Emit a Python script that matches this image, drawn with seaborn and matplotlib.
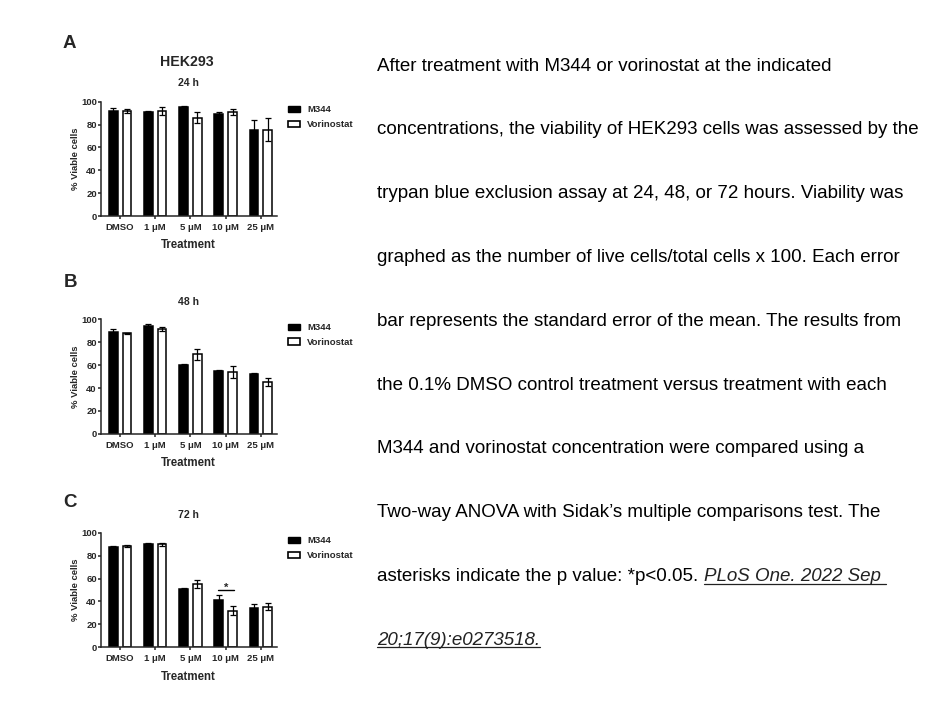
import numpy as np
import pandas as pd
import seaborn as sns
import matplotlib.pyplot as plt
from matplotlib.patches import Patch
from matplotlib.lines import Line2D

# treatments and drugs
treatments = ["DMSO", "1 μM", "5 μM", "10 μM", "25 μM"]
drugs = ["M344", "Vorinostat"]

# % viable cells (bar heights) and SEM (error bars)
m344_24h = [91.8, 90.6, 95.6, 88.9, 75.7]
vor_24h = [91.8, 91.8, 86.0, 90.9, 75.4]
m344_24h_sem = [2.4, 1.0, 0.6, 2.3, 7.9]
vor_24h_sem = [1.5, 3.8, 4.6, 2.6, 10.0]

m344_48h = [88.7, 94.5, 59.8, 54.6, 52.0]
vor_48h = [87.6, 91.6, 69.4, 54.0, 45.1]
m344_48h_sem = [2.9, 1.7, 1.5, 0.9, 0.9]
vor_48h_sem = [0.6, 1.7, 4.6, 5.2, 3.7]

m344_72h = [87.5, 89.9, 50.7, 41.4, 34.2]
vor_72h = [88.4, 89.9, 55.1, 31.9, 35.4]
m344_72h_sem = [0.9, 0.9, 0.9, 4.1, 3.5]
vor_72h_sem = [0.6, 1.1, 3.5, 4.0, 2.9]

# significance mark in the 72 h panel (10 uM, M344 vs vorinostat)
sig_group = "10 μM"
sig_level = 50.2
sig_text = "*"

panel_letters = ["A", "B", "C"]
panel_times = ["24 h", "48 h", "72 h"]
cell_line = "HEK293"

caption_lines = [
    "After treatment with M344 or vorinostat at the indicated",
    "concentrations, the viability of HEK293 cells was assessed by the",
    "trypan blue exclusion assay at 24, 48, or 72 hours. Viability was",
    "graphed as the number of live cells/total cells x 100. Each error",
    "bar represents the standard error of the mean. The results from",
    "the 0.1% DMSO control treatment versus treatment with each",
    "M344 and vorinostat concentration were compared using a",
    "Two-way ANOVA with Sidak\u2019s multiple comparisons test. The",
    "asterisks indicate the p value: *p<0.05.",
]
citation_1 = "PLoS One. 2022 Sep "
citation_2 = "20;17(9):e0273518."

sns.set_style("ticks")
plt.rcParams["font.family"] = ["Liberation Sans", "DejaVu Sans"]

W, H = 945, 709
fig = plt.figure(figsize=(W / 100, H / 100), dpi=100)


def fx(px):
    return px / W


def fy(py):
    return 1 - py / H


panels = [
    (m344_24h, vor_24h, m344_24h_sem, vor_24h_sem, 101.7),
    (m344_48h, vor_48h, m344_48h_sem, vor_48h_sem, 319.3),
    (m344_72h, vor_72h, m344_72h_sem, vor_72h_sem, 532.7),
]
ax_left, ax_w, ax_h = 100.7, 176, 114.5
palette = {"M344": "black", "Vorinostat": "white"}

for i, (m, v, ms, vs, top) in enumerate(panels):
    ax = fig.add_axes([fx(ax_left), fy(top + ax_h), ax_w / W, ax_h / H])
    df = pd.DataFrame({
        "Treatment": treatments * 2,
        "Viability": m + v,
        "Drug": ["M344"] * len(m) + ["Vorinostat"] * len(v),
    })
    sns.barplot(data=df, x="Treatment", y="Viability", hue="Drug",
                order=treatments, hue_order=drugs, palette=palette,
                edgecolor="black", linewidth=1.1, errorbar=None,
                width=0.78, gap=0.37, legend=False, ax=ax)

    centers = {}
    for cont, sems, drug in zip(ax.containers, [ms, vs], drugs):
        xs = [p.get_x() + p.get_width() / 2 for p in cont]
        ys = [p.get_height() for p in cont]
        centers[drug] = xs
        ax.errorbar(xs, ys, yerr=sems, fmt="none", ecolor="black",
                    elinewidth=0.9, capsize=2.5, capthick=0.9,
                    clip_on=False, zorder=3)

    ax.set_xlim(-0.55, 4.45)
    ax.set_ylim(0, 100)
    ax.set_yticks([0, 20, 40, 60, 80, 100])
    sns.despine(ax=ax)
    for s in ["left", "bottom"]:
        ax.spines[s].set_linewidth(1.1)
    ax.tick_params(axis="both", length=2, width=1.1, labelsize=6.8)
    ax.tick_params(axis="x", pad=3.0)
    ax.tick_params(axis="y", pad=0.8)
    for lbl in ax.get_xticklabels() + ax.get_yticklabels():
        lbl.set_fontweight("bold")

    ax.set_xlabel("Treatment", fontsize=8.3, fontweight="bold", va="center")
    ax.xaxis.set_label_coords(0.5, -29.3 / ax_h)
    ax.set_ylabel("% Viable cells", fontsize=6.8, fontweight="bold", va="center")
    ax.yaxis.set_label_coords(-(ax_left - 75) / ax_w, 0.5)

    handles = [Patch(facecolor="black", edgecolor="black", linewidth=1.0),
               Patch(facecolor="white", edgecolor="black", linewidth=1.2)]
    ax.legend(handles, drugs, loc="upper left",
              bbox_to_anchor=((288.3 - ax_left) / ax_w, 1 - 3.7 / ax_h),
              frameon=False, borderpad=0, borderaxespad=0,
              handlelength=1.29, handleheight=0.65, handletextpad=0.72,
              labelspacing=0.62, prop={"weight": "bold", "size": 6.8})

    if i == 2:
        k = treatments.index(sig_group)
        x0, x1 = centers["M344"][k], centers["Vorinostat"][k]
        ax.plot([x0 - 0.02, x1 + 0.05], [sig_level, sig_level],
                color="black", lw=1.0)
        ax.text((x0 + x1) / 2 + 0.02, sig_level - 1.2, sig_text, ha="center",
                va="baseline", fontsize=8, fontweight="bold")

# panel letters, titles
letter_pos = [(69, 43.5), (71, 282), (70, 502.5)]
time_pos = [83, 301.7, 515]
for letter, (lx, ly), t, ty in zip(panel_letters, letter_pos, panel_times, time_pos):
    fig.text(fx(lx), fy(ly), letter, ha="center", va="center",
             fontsize=13.5, fontweight="bold")
    fig.text(fx(ax_left + ax_w / 2), fy(ty), t, ha="center", va="center",
             fontsize=7.6, fontweight="bold")
fig.text(fx(ax_left + ax_w / 2 - 2), fy(61.7), cell_line, ha="center",
         va="center", fontsize=10.2, fontweight="bold")

# caption text on the right
cap_x, base0, step, cap_fs = 377.3, 70.7, 63.8, 13.5
txt = None
for j, line in enumerate(caption_lines):
    txt = fig.text(fx(cap_x), fy(base0 + j * step), line, ha="left",
                   va="baseline", fontsize=cap_fs, color="black")

fig.canvas.draw()
renderer = fig.canvas.get_renderer()
bb = txt.get_window_extent(renderer)
space_px = 0.278 * cap_fs * 100 / 72
base_last = base0 + (len(caption_lines) - 1) * step
c1 = fig.text((bb.x1 + space_px) / W, fy(base_last), citation_1, ha="left",
              va="baseline", fontsize=cap_fs, style="italic", color="#222222")
c2 = fig.text(fx(cap_x), fy(base_last + step), citation_2, ha="left",
              va="baseline", fontsize=cap_fs, style="italic", color="#222222")
fig.canvas.draw()
for c, base in [(c1, base_last), (c2, base_last + step)]:
    b = c.get_window_extent(renderer)
    uy = fy(base + 2.5)
    fig.add_artist(Line2D([b.x0 / W, b.x1 / W], [uy, uy],
                          transform=fig.transFigure, color="#222222", lw=0.9))

fig.savefig("out.png", dpi=100)
